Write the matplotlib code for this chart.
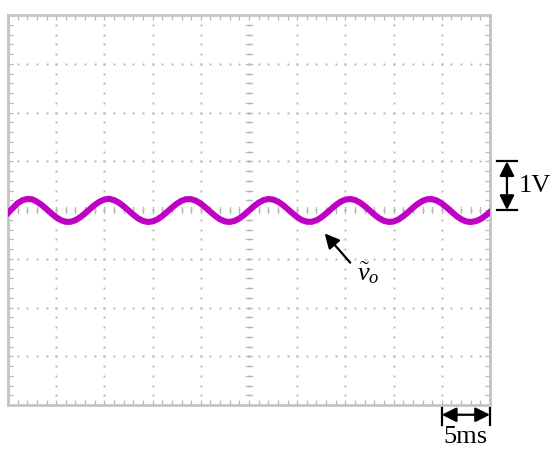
import numpy as np
import matplotlib.pyplot as plt

plt.rcParams['font.family'] = ['Liberation Serif', 'DejaVu Serif']
plt.rcParams['mathtext.fontset'] = 'custom'
plt.rcParams['mathtext.rm'] = 'Liberation Serif'
plt.rcParams['mathtext.it'] = 'Liberation Serif:italic'

# ---------------------------------------------------------------
# Data (5 ms/div, 1 V/div)
# ---------------------------------------------------------------
t_step = 0.5  # ms between samples
v_o = [
    -0.06, 0.04, 0.14, 0.20, 0.226, 0.22, 0.171, 0.102, 0.018, -0.070,
    -0.150, -0.210, -0.242, -0.242, -0.209, -0.148, -0.068, 0.021, 0.104, 0.172,
    0.215, 0.23, 0.203, 0.151, 0.077, -0.010, -0.097, -0.172, -0.224, -0.246,
    -0.234, -0.192, -0.124, -0.040, 0.048, 0.128, 0.189, 0.222, 0.222, 0.190,
    0.129, 0.050, -0.039, -0.123, -0.191, -0.234, -0.246, -0.224, -0.173, -0.098,
    -0.012, 0.075, 0.150, 0.203, 0.225, 0.215, 0.173, 0.105, 0.022, -0.066,
    -0.147, -0.208, -0.241, -0.242, -0.211, -0.151, -0.072, 0.016, 0.101, 0.170,
    0.213, 0.226, 0.205, 0.154, 0.080, -0.006, -0.093, -0.169, -0.222, -0.245,
    -0.236, -0.195, -0.128, -0.044, 0.044, 0.125, 0.187, 0.221, 0.223, 0.192,
    0.133, 0.054, -0.034, -0.119, -0.188, -0.233, -0.246, -0.23, -0.19, -0.12,
    -0.04,
]
t = np.arange(len(v_o)) * t_step

x_divs = 10
y_divs = 8
ms_per_div = 5
v_per_div = 1

GRID = "#b8b8b8"
FRAME = "#c4c4c4"
TRACE = "#c000c4"

fig = plt.figure(figsize=(5.5, 4.57), dpi=100)
ax = fig.add_axes([8 / 550, 52 / 457, 482 / 550, 390 / 457])

x_max = x_divs * ms_per_div
y_max = y_divs / 2 * v_per_div
ax.set_xlim(0, x_max)
ax.set_ylim(-y_max, y_max)

# graticule: dotted lines made of dots at each fifth of a division
x_minor = np.arange(0, x_max + 1e-9, ms_per_div / 5)
y_minor = np.arange(-y_max, y_max + 1e-9, v_per_div / 5)
x_major = np.arange(0, x_max + 1e-9, ms_per_div)
y_major = np.arange(-y_max, y_max + 1e-9, v_per_div)
for xm in x_major[1:-1]:
    ax.plot(np.full_like(y_minor, xm), y_minor, ls="none", marker="s",
            ms=1.4, mec="none", mfc=GRID, zorder=1)
for ym in y_major[1:-1]:
    ax.plot(x_minor, np.full_like(x_minor, ym), ls="none", marker="s",
            ms=1.4, mec="none", mfc=GRID, zorder=1)

# small cross ticks on the centre lines
dx = 0.3
dy = 0.06
for xm in x_minor[1:-1]:
    ax.plot([xm, xm], [-dy, dy], color=GRID, lw=0.9, zorder=1)
for ym in y_minor[1:-1]:
    ax.plot([x_max / 2 - dx, x_max / 2 + dx], [ym, ym], color=GRID, lw=0.9, zorder=1)

# frame ticks on all sides
ax.set_xticks(x_minor)
ax.set_yticks(y_minor)
ax.tick_params(direction="in", length=3.5, width=0.9, color=GRID,
               top=True, right=True, labelbottom=False, labelleft=False)
for s in ax.spines.values():
    s.set_color(FRAME)
    s.set_linewidth(2.0)

# trace
ax.plot(t, v_o, color=TRACE, lw=4.4, solid_joinstyle="round", zorder=3)

# label for the trace
ax.annotate("", xy=(32.85, -0.48), xytext=(35.5, -1.08),
            arrowprops=dict(arrowstyle="-|>", color="black", lw=1.6,
                            mutation_scale=22, shrinkA=0, shrinkB=0))
ax.text(36.2, -1.3, r"$\tilde{v}_o$", fontsize=19, ha="left", va="center")

# 1 V scale marker (right side)
xv = 51.76
ax.annotate("", xy=(xv, 0), xytext=(xv, v_per_div),
            arrowprops=dict(arrowstyle="<|-|>", color="black", lw=1.6,
                            mutation_scale=22, shrinkA=0, shrinkB=0),
            annotation_clip=False)
for yb in (0, v_per_div):
    ax.plot([50.75, 52.8], [yb, yb], color="black", lw=1.6, clip_on=False)
ax.text(52.95, 0.5, "1V", fontsize=19, ha="left", va="center")

# 5 ms scale marker (bottom right)
yh = -4.2
ax.annotate("", xy=(x_max - ms_per_div, yh), xytext=(x_max, yh),
            arrowprops=dict(arrowstyle="<|-|>", color="black", lw=1.6,
                            mutation_scale=22, shrinkA=0, shrinkB=0),
            annotation_clip=False)
for xb in (x_max - ms_per_div, x_max):
    ax.plot([xb, xb], [-4.03, -4.4], color="black", lw=1.6, clip_on=False)
ax.text(x_max - ms_per_div / 2, -4.66, "5ms", fontsize=19, ha="center", va="center")

fig.savefig("out.png", dpi=100)
